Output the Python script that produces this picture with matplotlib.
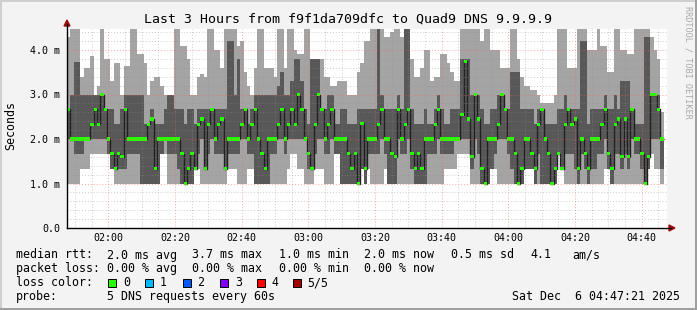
import numpy as np
import matplotlib.pyplot as plt
from matplotlib.patches import Rectangle, Polygon
from matplotlib.lines import Line2D

# --- data: one value per minute, in ms (5 DNS pings sorted: p1 <= p2 <= median <= p4 <= p5) ---
median = [2.67, 2.0, 2.0, 2.0, 2.0, 2.0, 2.0, 2.33, 2.67, 2.33,
          3.0, 2.67, 2.0, 1.67, 1.33, 1.67, 1.6, 2.67, 2.0, 2.0,
          2.0, 2.0, 2.0, 2.0, 2.33, 2.45, 1.33, 2.0, 2.0, 2.0,
          2.0, 2.0, 2.0, 2.0, 1.67, 1.0, 1.33, 1.67, 1.33, 2.33,
          2.45, 1.33, 2.33, 2.67, 2.0, 2.33, 2.45, 1.33, 2.0, 2.0,
          2.0, 2.0, 2.33, 2.67, 2.0, 2.33, 2.67, 2.0, 1.67, 1.33,
          2.0, 2.0, 2.0, 2.33, 2.67, 2.0, 2.33, 2.67, 2.33, 3.0,
          2.67, 2.0, 1.67, 1.33, 2.33, 3.0, 2.67, 2.0, 2.33, 2.67,
          2.0, 2.0, 2.0, 2.0, 1.67, 1.33, 1.67, 1.0, 2.35, 1.33,
          2.0, 2.0, 2.0, 2.33, 2.67, 2.0, 2.0, 1.67, 1.6, 2.67,
          2.0, 2.33, 2.67, 1.67, 1.33, 1.67, 1.33, 2.0, 2.0, 2.0,
          2.33, 2.67, 2.0, 2.0, 2.0, 2.0, 2.0, 2.0, 2.55, 3.75,
          2.45, 1.6, 3.0, 2.45, 1.33, 1.0, 2.0, 2.0, 2.0, 2.33,
          3.0, 2.67, 2.0, 2.0, 1.67, 1.0, 1.33, 2.0, 2.0, 1.67,
          1.33, 2.33, 2.67, 2.0, 1.67, 1.0, 1.33, 1.67, 1.33, 2.33,
          2.67, 2.33, 2.45, 1.33, 2.0, 1.67, 1.33, 2.0, 2.0, 2.0,
          2.33, 2.67, 1.67, 1.33, 2.33, 2.45, 1.6, 2.45, 1.6, 2.67,
          2.0, 2.0, 1.67, 1.0, 1.6, 3.0, 3.0, 2.67, 2.0]

ping_max = [4.3, 4.6, 4.6, 4.6, 3.4, 3.6, 3.6, 3.87, 3.0, 3.2,
            4.6, 3.8, 3.8, 3.3, 3.7, 3.7, 3.0, 3.64, 3.64, 4.6,
            4.6, 3.9, 3.9, 3.7, 3.0, 3.3, 3.4, 3.4, 3.2, 3.0,
            3.0, 3.0, 4.6, 4.6, 4.1, 4.1, 3.8, 3.0, 3.0, 3.4,
            3.45, 3.4, 4.6, 4.6, 4.0, 4.0, 3.6, 4.6, 4.6, 4.6,
            4.6, 4.1, 4.2, 3.5, 3.2, 3.0, 3.6, 4.6, 4.6, 3.6,
            3.6, 3.6, 3.4, 4.6, 4.6, 3.6, 4.6, 4.6, 4.0, 3.9,
            3.9, 4.6, 4.6, 3.8, 3.8, 3.8, 3.8, 3.4, 3.4, 3.2,
            3.2, 3.3, 3.3, 3.3, 3.0, 3.0, 3.0, 3.5, 3.7, 4.2,
            4.2, 4.6, 4.6, 4.6, 4.6, 4.3, 4.3, 4.4, 4.6, 4.6,
            4.3, 4.6, 4.6, 3.8, 3.4, 3.4, 3.6, 4.0, 4.0, 3.3,
            3.4, 3.4, 3.9, 3.9, 3.7, 3.5, 3.3, 3.3, 4.6, 4.6,
            4.6, 4.6, 4.6, 4.6, 4.2, 4.6, 4.6, 4.0, 4.0, 4.0,
            3.6, 3.6, 3.6, 4.6, 4.6, 3.8, 3.4, 3.2, 3.2, 3.1,
            3.1, 3.0, 2.8, 2.8, 2.8, 2.8, 3.0, 4.6, 4.6, 4.6,
            3.6, 3.6, 3.6, 4.6, 4.6, 4.6, 4.0, 4.0, 4.0, 4.6,
            4.1, 4.1, 3.5, 3.5, 4.6, 4.6, 4.0, 4.0, 3.9, 3.9,
            4.6, 4.6, 4.6, 4.6, 4.6, 4.3, 4.0, 3.8, 2.6]

ping_4 = [2.67, 3.0, 3.73, 3.73, 3.0, 3.0, 3.0, 3.0, 3.0, 3.0,
          3.0, 2.67, 2.67, 2.67, 2.33, 2.33, 2.67, 3.0, 3.0, 3.0,
          3.0, 3.0, 3.0, 2.33, 2.33, 2.67, 2.33, 2.33, 2.33, 2.67,
          3.0, 3.0, 2.67, 2.67, 2.67, 2.33, 2.67, 2.67, 2.33, 2.67,
          2.67, 2.67, 2.67, 2.67, 2.67, 2.67, 2.67, 2.67, 4.2, 4.2,
          3.0, 3.8, 2.67, 2.67, 2.33, 2.67, 3.0, 3.0, 3.0, 3.0,
          3.0, 3.0, 3.0, 3.2, 3.5, 3.0, 3.0, 3.3, 3.8, 3.8,
          3.3, 2.67, 2.33, 3.8, 3.8, 3.8, 2.67, 2.67, 3.0, 3.0,
          2.33, 2.33, 2.67, 2.67, 2.33, 2.33, 2.33, 2.67, 2.67, 2.67,
          2.67, 2.67, 2.67, 4.6, 3.0, 2.67, 2.67, 2.67, 2.67, 3.0,
          2.67, 4.6, 4.6, 2.67, 2.33, 2.33, 2.33, 2.67, 2.33, 2.33,
          2.67, 3.0, 2.67, 2.33, 2.33, 2.67, 2.67, 2.67, 3.8, 3.8,
          3.8, 3.0, 3.0, 3.0, 2.67, 2.33, 2.33, 2.67, 2.67, 3.0,
          3.0, 2.67, 2.67, 3.5, 3.5, 3.5, 2.67, 2.67, 2.67, 2.67,
          2.33, 2.67, 2.67, 2.33, 2.33, 2.33, 2.33, 2.67, 2.67, 3.0,
          2.67, 2.67, 2.67, 2.67, 4.2, 4.2, 2.33, 2.67, 2.67, 2.67,
          2.67, 3.0, 2.67, 2.67, 3.0, 2.67, 3.3, 3.3, 3.3, 2.67,
          2.33, 2.33, 2.33, 4.3, 4.3, 3.0, 3.0, 3.0, 2.0]

ping_2 = [2.0, 2.0, 1.67, 1.67, 1.67, 2.0, 2.0, 2.0, 2.0, 2.0,
          2.0, 2.0, 1.67, 1.33, 1.33, 1.33, 1.33, 1.33, 1.67, 1.67,
          1.67, 1.67, 1.0, 1.0, 1.0, 1.0, 1.0, 1.0, 1.67, 2.0,
          1.67, 1.67, 1.67, 1.33, 1.0, 1.0, 1.0, 1.0, 1.33, 1.67,
          2.0, 1.33, 1.67, 2.0, 1.67, 1.67, 1.67, 1.33, 1.67, 1.67,
          1.67, 1.67, 2.0, 2.0, 1.67, 1.67, 1.0, 1.0, 1.0, 1.0,
          1.0, 1.67, 1.67, 2.0, 2.0, 1.67, 2.0, 2.0, 2.0, 2.0,
          2.0, 2.0, 1.33, 1.33, 1.67, 2.0, 2.0, 1.67, 1.67, 2.0,
          1.67, 1.67, 1.0, 1.0, 1.0, 1.0, 1.0, 1.0, 1.33, 1.0,
          1.67, 1.67, 1.67, 1.67, 2.0, 1.67, 1.0, 1.0, 1.0, 2.0,
          1.67, 1.67, 2.0, 1.33, 1.0, 1.0, 1.0, 1.0, 1.67, 1.67,
          1.67, 2.0, 1.67, 1.67, 1.67, 1.67, 2.0, 2.0, 2.0, 2.0,
          2.0, 1.33, 2.0, 1.67, 1.0, 1.0, 1.0, 1.33, 1.67, 2.0,
          2.0, 2.0, 1.67, 1.33, 1.0, 1.0, 1.0, 1.33, 1.33, 1.33,
          1.0, 1.67, 1.0, 1.0, 1.0, 1.0, 1.0, 1.67, 1.33, 1.67,
          1.67, 1.67, 1.33, 1.0, 1.67, 1.33, 1.0, 1.33, 1.33, 1.67,
          1.67, 2.0, 1.33, 1.0, 1.67, 1.67, 1.33, 1.67, 1.33, 2.0,
          1.67, 1.67, 1.33, 1.0, 1.33, 2.0, 2.0, 2.0, 1.33]

ping_min = [1.0, 1.0, 1.0, 1.0, 1.33, 1.33, 1.33, 1.67, 1.67, 1.67,
            1.67, 1.67, 1.67, 1.33, 1.0, 1.0, 1.0, 1.0, 1.0, 1.0,
            1.0, 1.0, 1.0, 1.0, 1.0, 1.0, 1.0, 1.0, 1.67, 1.67,
            1.0, 1.0, 1.0, 1.0, 1.0, 1.0, 1.0, 1.0, 1.33, 1.33,
            1.0, 1.0, 1.0, 1.0, 1.0, 1.0, 1.0, 1.0, 1.33, 1.33,
            1.33, 1.0, 1.0, 1.0, 1.33, 1.33, 1.0, 1.0, 1.0, 1.0,
            1.0, 1.0, 1.0, 1.0, 1.0, 1.0, 1.33, 1.67, 1.67, 1.33,
            1.33, 1.0, 1.0, 1.0, 1.33, 1.33, 1.33, 1.0, 1.0, 1.0,
            1.67, 1.67, 1.0, 1.0, 1.0, 1.0, 1.0, 1.0, 1.33, 1.0,
            1.33, 1.0, 1.0, 1.0, 1.0, 1.33, 1.0, 1.0, 1.0, 1.0,
            1.0, 1.0, 1.0, 1.0, 1.0, 1.0, 1.0, 1.0, 1.0, 1.0,
            1.0, 1.0, 1.0, 1.33, 1.33, 1.33, 1.33, 1.67, 1.67, 1.67,
            1.67, 1.0, 1.0, 1.0, 1.0, 1.0, 1.0, 1.33, 1.33, 1.0,
            1.0, 1.0, 1.0, 1.0, 1.0, 1.0, 1.0, 1.33, 1.33, 1.33,
            1.0, 1.0, 1.0, 1.0, 1.0, 1.0, 1.0, 1.67, 1.33, 1.0,
            1.0, 1.0, 1.0, 1.0, 1.0, 1.0, 1.0, 1.0, 1.0, 1.0,
            1.0, 1.33, 1.33, 1.0, 1.0, 1.0, 1.0, 1.0, 1.0, 1.0,
            1.0, 1.0, 1.0, 1.0, 1.33, 1.67, 1.33, 1.33, 1.0]

start_minute = 107.6          # 01:47 (minutes after midnight)
span_minutes = 180
tick_minutes = [120, 140, 160, 180, 200, 220, 240, 260, 280]
ytick_vals = [0, 1, 2, 3, 4]
ytick_labels = ["0.0", "1.0 m", "2.0 m", "3.0 m", "4.0 m"]
loss_labels = ["0", "1", "2", "3", "4", "5/5"]
loss_colors = ["#26ff00", "#00b8ff", "#0059ff", "#7e00ff", "#ff0000", "#a00000"]

W, H = 697, 310
MONO = "DejaVu Sans Mono"


def fx(x):
    return x / W


def fy(y):
    return 1 - y / H


fig = plt.figure(figsize=(W / 100, H / 100), dpi=100)
fig.patch.set_facecolor("#f3f3f3")

ax = fig.add_axes([fx(67), fy(228), 600 / W, 199 / H])
ax.set_facecolor("white")
ax.set_xlim(start_minute, start_minute + span_minutes)
ax.set_ylim(0, 199 / 44.5)

med = np.array(median)
edges = start_minute + np.arange(len(med) + 1)

# smoke: outer pair light, inner pair dark
ax.stairs(ping_max, edges, baseline=ping_min, fill=True, color="#a4a4a4", lw=0, zorder=1)
ax.stairs(ping_4, edges, baseline=ping_2, fill=True, color="#585858", lw=0, zorder=2)
# median line + loss-coloured marker
ax.stairs(med, edges, baseline=None, color="#202020", lw=1.0, zorder=3)
ax.stairs(med + 0.035, edges, baseline=med - 0.035, fill=True, color=loss_colors[0], lw=0, zorder=4)

# grid (drawn over the smoke like rrdtool)
for m in range(110, 288, 5):
    if m % 20 == 0:
        ax.axvline(m, color="#ff6060", alpha=0.55, lw=0.7, ls=(0, (1, 2)), zorder=5)
    else:
        ax.axvline(m, color="#909090", alpha=0.45, lw=0.7, ls=(0, (1, 2)), zorder=5)
for i in range(1, 23):
    yv = i * 0.2
    if i % 5 == 0:
        ax.axhline(yv, color="#ff6060", alpha=0.55, lw=0.7, ls=(0, (1, 2)), zorder=5)
    else:
        ax.axhline(yv, color="#909090", alpha=0.45, lw=0.7, ls=(0, (1, 2)), zorder=5)

for s in ax.spines.values():
    s.set_visible(False)

ax.set_xticks(tick_minutes)
ax.set_xticklabels(["%02d:%02d" % (m // 60, m % 60) for m in tick_minutes])
ax.set_yticks(ytick_vals)
ax.set_yticklabels(ytick_labels)
ax.tick_params(axis="x", length=0, pad=3.5, labelsize=7.2)
ax.tick_params(axis="y", length=0, pad=5, labelsize=7.2)
for lab in ax.get_xticklabels() + ax.get_yticklabels():
    lab.set_family(MONO)

# axes with arrow heads
fig.add_artist(Line2D([fx(67), fx(67)], [fy(228), fy(24)], color="black", lw=1))
fig.add_artist(Line2D([fx(67), fx(671)], [fy(228), fy(228)], color="black", lw=1))
fig.add_artist(Polygon([[fx(64), fy(26)], [fx(70), fy(26)], [fx(67), fy(20)]],
                       closed=True, color="#9a1010", transform=fig.transFigure))
fig.add_artist(Polygon([[fx(669), fy(225)], [fx(669), fy(231)], [fx(675), fy(228)]],
                       closed=True, color="#9a1010", transform=fig.transFigure))

# titles
fig.text(fx(347.5), fy(19), "Last 3 Hours from f9f1da709dfc to Quad9 DNS 9.9.9.9",
         ha="center", va="center", size=9.5, family=MONO)
fig.text(fx(11), fy(126), "Seconds", rotation=90, ha="center", va="center", size=8.4, family=MONO)
fig.text(fx(688), fy(62), "RRDTOOL / TOBI OETIKER", rotation=270, ha="center", va="center",
         size=6.1, family=MONO, color="#a8a8a8")

# legend
rows = [
    (255, [(16, "median rtt:"), (107, "2.0 ms avg"), (192, "3.7 ms max"), (279, "1.0 ms min"),
           (364, "2.0 ms now"), (451, "0.5 ms sd"), (530, "4.1"), (572, "am/s")]),
    (268.5, [(16, "packet loss:"), (107, "0.00 % avg"), (192, "0.00 % max"),
             (279, "0.00 % min"), (364, "0.00 % now")]),
    (282.7, [(16, "loss color:")]),
    (296.7, [(16, "probe:"), (107, "5 DNS requests every 60s")]),
]
for yrow, items in rows:
    for xpos, txt in items:
        fig.text(fx(xpos), fy(yrow), txt, ha="left", va="center", size=8.4, family=MONO)

box_x = [108.4, 145.3, 182.7, 220, 257, 293.3]
lab_x = [123, 159.6, 197, 235, 271.6, 307.6]
for bx, lx, lab, col in zip(box_x, lab_x, loss_labels, loss_colors):
    fig.add_artist(Rectangle((fx(bx), fy(286.7)), 8 / W, 8 / H, transform=fig.transFigure,
                             facecolor=col, edgecolor="black", lw=0.7))
    fig.text(fx(lx), fy(282.7), lab, ha="left", va="center", size=8.4, family=MONO)

fig.text(fx(680), fy(296.7), "Sat Dec  6 04:47:21 2025", ha="right", va="center", size=8.4, family=MONO)

# 3d frame
fig.add_artist(Line2D([0, 1], [fy(0.7), fy(0.7)], color="#cfcfcf", lw=1.4))
fig.add_artist(Line2D([fx(0.7), fx(0.7)], [0, 1], color="#cfcfcf", lw=1.4))
fig.add_artist(Line2D([0, 1], [fy(309.2), fy(309.2)], color="#9e9e9e", lw=1.4))
fig.add_artist(Line2D([fx(696.2), fx(696.2)], [0, 1], color="#9e9e9e", lw=1.4))

fig.savefig("out.png", dpi=100, facecolor=fig.get_facecolor())
